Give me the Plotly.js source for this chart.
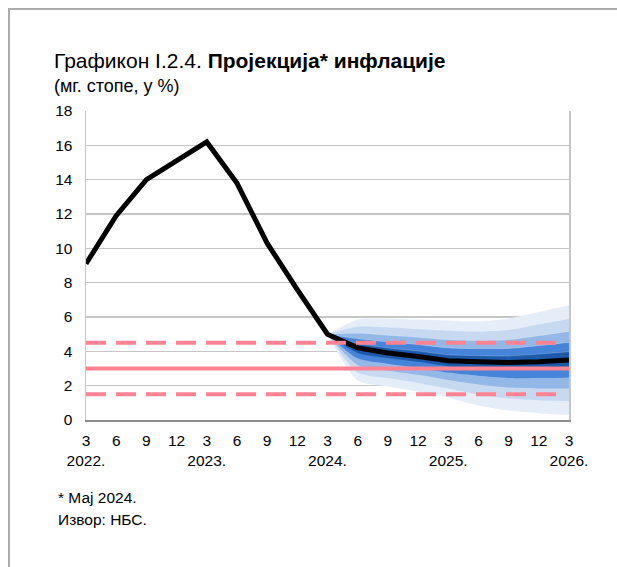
<!DOCTYPE html>
<html>
<head>
<meta charset="utf-8">
<script src="https://cdn.plot.ly/plotly-3.0.1.min.js"></script>
<style>
  body { margin: 0; background: #fff; }
  #frame { position: absolute; left: 8px; top: 8px; width: 700px; height: 700px;
           border-left: 2px solid #ababab; border-top: 2px solid #ababab; }
  #chart { position: absolute; left: 0; top: 0; width: 617px; height: 567px; }
</style>
</head>
<body>
<div id="frame"></div>
<div id="chart"></div>
<script>
// quarters: Mar 2022 .. Mar 2026
const quarters = ['3.2022', '6.2022', '9.2022', '12.2022', '3.2023', '6.2023', '9.2023', '12.2023',
                  '3.2024', '6.2024', '9.2024', '12.2024', '3.2025', '6.2025', '9.2025', '12.2025', '3.2026'];
const tickLabels = ['3<br>2022.', '6', '9', '12', '3<br>2023.', '6', '9', '12',
                    '3<br>2024.', '6', '9', '12', '3<br>2025.', '6', '9', '12', '3<br>2026.'];

// y-o-y inflation, actual + projection (central line)
const inflation = [9.1, 11.9, 14.0, 15.1, 16.2, 13.8, 10.3, 7.6, 5.0, 4.2, 3.9, 3.7, 3.45, 3.4, 3.35, 3.4, 3.5];

// fan chart band edges, Mar 2024 .. Mar 2026
const fanQuarters = quarters.slice(8);
const upper5 = [5.0, 5.85, 5.9, 5.85, 5.8, 5.75, 5.9, 6.3, 6.7];
const upper4 = [5.0, 5.44, 5.4, 5.31, 5.21, 5.16, 5.26, 5.58, 5.9];
const upper3 = [5.0, 5.06, 4.94, 4.82, 4.67, 4.62, 4.68, 4.91, 5.16];
const upper2 = [5.0, 4.73, 4.54, 4.39, 4.2, 4.15, 4.17, 4.33, 4.52];
const upper1 = [5.0, 4.45, 4.2, 4.02, 3.8, 3.75, 3.73, 3.84, 3.98];
const lower1 = [5.0, 3.91, 3.61, 3.39, 3.13, 3.02, 2.93, 2.95, 3.02];
const lower2 = [5.0, 3.59, 3.28, 3.04, 2.76, 2.58, 2.45, 2.44, 2.48];
const lower3 = [5.0, 3.21, 2.89, 2.63, 2.33, 2.07, 1.89, 1.84, 1.84];
const lower4 = [5.0, 2.77, 2.44, 2.16, 1.84, 1.49, 1.25, 1.15, 1.1];
const lower5 = [5.0, 2.3, 1.95, 1.65, 1.3, 0.85, 0.55, 0.4, 0.3];

// inflation target and tolerance band
const target = 3;
const targetLow = 1.5;
const targetHigh = 4.5;

const xi = quarters.map((q, i) => i);
const fanX = fanQuarters.map(q => quarters.indexOf(q));
const lastX = xi[xi.length - 1];

const bands = [
    [lower5, upper5, '#e4edf8'],
    [lower4, upper4, '#c6d9f1'],
    [lower3, upper3, '#93b7e6'],
    [lower2, upper2, '#4584d8'],
    [lower1, upper1, '#1d5aab'],
];

const traces = [];
bands.forEach(([lo, hi, col]) => {
    traces.push({ x: fanX, y: lo, mode: 'lines', line: { width: 0, shape: 'spline', smoothing: 0.7 },
                  hoverinfo: 'skip', showlegend: false });
    traces.push({ x: fanX, y: hi, mode: 'lines', fill: 'tonexty', fillcolor: col,
                  line: { width: 0.6, color: 'rgba(255,255,255,0.35)', shape: 'spline', smoothing: 0.7 },
                  hoverinfo: 'skip', showlegend: false });
});

traces.push({ x: xi, y: inflation, mode: 'lines', line: { color: '#000', width: 5 }, showlegend: false });

const pink = '#ff8392';
const dashEnd = lastX - 0.3;
traces.push({ x: [0, dashEnd], y: [targetHigh, targetHigh], mode: 'lines',
              line: { color: pink, width: 4, dash: '20px,10px' }, showlegend: false });
traces.push({ x: [0, dashEnd], y: [targetLow, targetLow], mode: 'lines',
              line: { color: pink, width: 4, dash: '20px,10px' }, showlegend: false });
traces.push({ x: [0, lastX + 0.08], y: [target, target], mode: 'lines', cliponaxis: false,
              line: { color: pink, width: 4 }, showlegend: false });

const font = 'Liberation Sans, Arial, sans-serif';
const px = x => (x - 86) / 483;
const py = y => (420 - y) / 309;

const layout = {
    width: 617,
    height: 567,
    margin: { l: 86, r: 48, t: 111, b: 147 },
    paper_bgcolor: 'rgba(0,0,0,0)',
    plot_bgcolor: 'rgba(0,0,0,0)',
    font: { family: font, size: 15, color: '#000' },
    showlegend: false,
    xaxis: {
        range: [0, lastX],
        tickmode: 'array',
        tickvals: xi,
        ticktext: tickLabels,
        showgrid: false,
        zeroline: false,
        showline: true,
        linecolor: '#8c8c8c',
        linewidth: 2,
        ticks: '',
        ticklabelstandoff: 5,
        tickfont: { family: font, size: 15.5 },
    },
    yaxis: {
        range: [0, 18],
        dtick: 2,
        showgrid: true,
        gridcolor: '#c6c6c6',
        gridwidth: 1.5,
        zeroline: false,
        showline: true,
        mirror: true,
        linecolor: '#c6c6c6',
        linewidth: 1.5,
        ticks: '',
        ticklabelstandoff: 9,
        tickfont: { family: font, size: 15.5 },
    },
    annotations: [
        { text: 'Графикон I.2.4. <b>Пројекција* инфлације</b>', xref: 'paper', yref: 'paper',
          x: px(52), y: py(61), xanchor: 'left', yanchor: 'middle', showarrow: false,
          font: { family: font, size: 21 } },
        { text: '(мг. стопе, у %)', xref: 'paper', yref: 'paper',
          x: px(52), y: py(86), xanchor: 'left', yanchor: 'middle', showarrow: false,
          font: { family: font, size: 18 } },
        { text: '* Мај 2024.', xref: 'paper', yref: 'paper',
          x: px(56), y: py(498), xanchor: 'left', yanchor: 'middle', showarrow: false,
          font: { family: font, size: 15.5 } },
        { text: 'Извор: НБС.', xref: 'paper', yref: 'paper',
          x: px(56), y: py(519), xanchor: 'left', yanchor: 'middle', showarrow: false,
          font: { family: font, size: 15.5 } },
    ],
};

Plotly.newPlot('chart', traces, layout, { displayModeBar: false, staticPlot: true });
</script>
</body>
</html>
